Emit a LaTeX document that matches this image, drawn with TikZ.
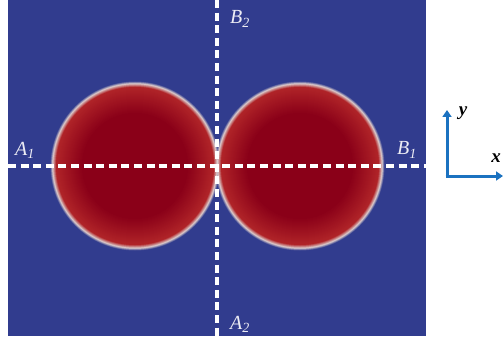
\documentclass[tikz,border=0pt]{standalone}
\usepackage{fontspec}
\setmainfont{Liberation Serif}
\usetikzlibrary{arrows.meta}
\definecolor{bg}{HTML}{313C8E}
\definecolor{dred}{HTML}{8A0018}
\definecolor{mred}{HTML}{B02428}
\definecolor{pale}{HTML}{DCCCCC}
\definecolor{axblue}{HTML}{1B72C0}
\definecolor{lbl}{HTML}{ECECF4}
\tikzset{
  cut/.style={white, line width=3.5pt, dash pattern=on 8pt off 4.6pt},
  lab/.style={text=lbl, font=\fontsize{20}{22}\selectfont\itshape, inner sep=0pt},
  axl/.style={text=black, font=\fontsize{19}{21}\selectfont\bfseries\itshape, inner sep=0pt},
  axarrow/.style={axblue, line width=3pt, -{Triangle[length=7pt,width=9pt]}}
}
\begin{document}
\begin{tikzpicture}[x=1pt,y=-1pt]
\useasboundingbox (0,0) rectangle (503,342);
\fill[white] (0,0) rectangle (503,342);
\fill[bg] (8,0) rectangle (426,336);
\coordinate (c1) at (135,166);
\coordinate (c2) at (300,166);
\begin{scope}
\clip (8,0) rectangle (426,336);
\foreach \r in {85,84.5,...,82.5} {
  \pgfmathsetmacro\t{(85-\r)*40}
  \fill[pale!\t!bg] (c1) circle (\r) (c2) circle (\r);
}
\foreach \r in {82,81.5,...,79} {
  \pgfmathsetmacro\t{(82.5-\r)/3.5*100}
  \fill[mred!\t!pale] (c1) circle (\r) (c2) circle (\r);
}
\foreach \r in {78.5,77.5,...,52.5} {
  \pgfmathsetmacro\t{(79-\r)/26.5*100}
  \fill[dred!\t!mred] (c1) circle (\r) (c2) circle (\r);
}
\end{scope}
% cut lines
\coordinate (hl) at (8,166);
\coordinate (hr) at (426,166);
\coordinate (vt) at (217,0);
\coordinate (vb) at (217,336);
\draw[cut] (hl) -- (hr);
\draw[cut] (vt) -- (vb);
\node[lab] (a1) at (25,150) {A\textsubscript{1}};
\node[lab] (b1) at (407,150) {B\textsubscript{1}};
\node[lab] (b2) at (240,19) {B\textsubscript{2}};
\node[lab] (a2) at (240,324) {A\textsubscript{2}};
% axes
\coordinate (o) at (447,176);
\coordinate (ytip) at (447,110);
\coordinate (xtip) at (503,176);
\draw[axarrow] (o) -- (ytip);
\draw[axarrow] ([xshift=-1.5pt]o) -- (xtip);
\node[axl] (ylab) at (463,113) {y};
\node[axl] (xlab) at (496,158) {x};
\end{tikzpicture}
\end{document}
